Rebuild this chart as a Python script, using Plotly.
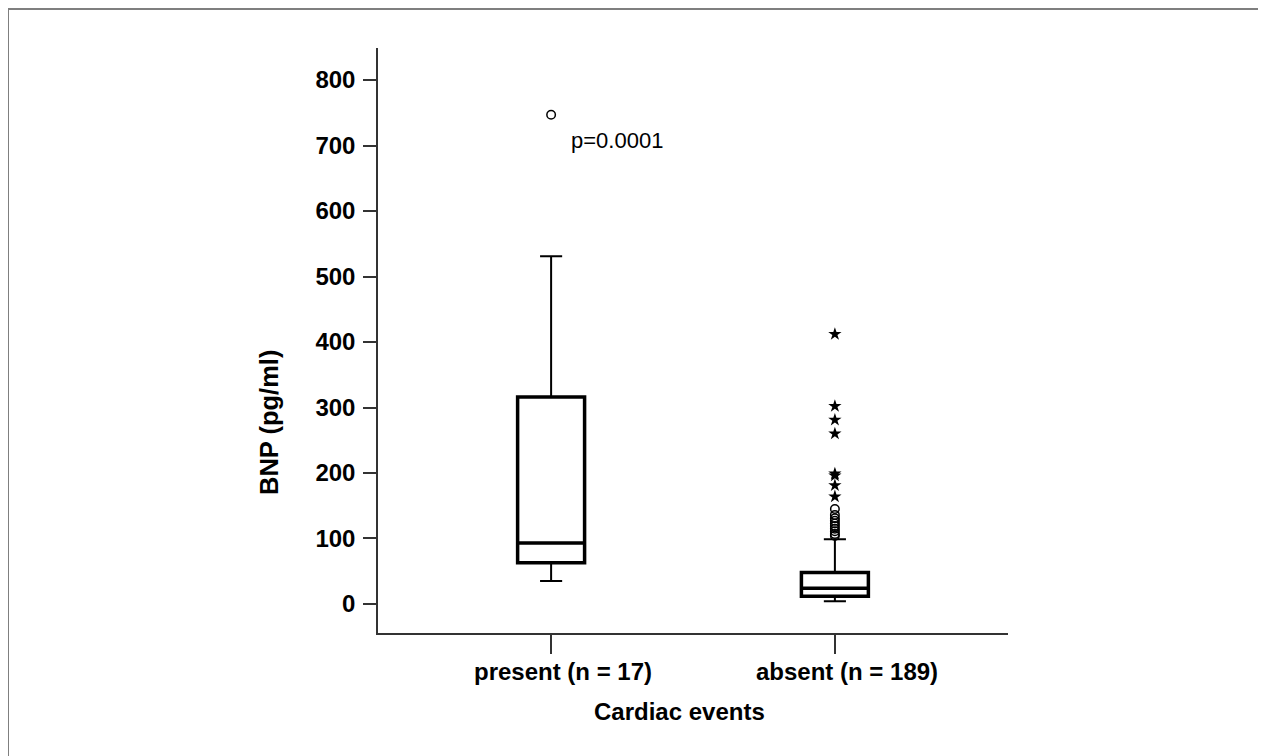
import plotly.graph_objects as go

# ---- data ----
categories = ["present (n = 17)", "absent (n = 189)"]
q1 = [63, 12]
median = [93, 24]
q3 = [316, 48]
lower_whisker = [35, 4]
upper_whisker = [531, 99]

present_circles = [747]
absent_circles = [104, 107, 111, 115, 119, 123, 127, 131, 136, 145]
absent_stars = [164, 181, 196, 199, 260, 281, 302, 412]

y_ticks = [0, 100, 200, 300, 400, 500, 600, 700, 800]
p_text = "p=0.0001"
x_title = "Cardiac events"
y_title = "BNP (pg/ml)"

# ---- layout geometry (page is offset by the 8px body margin) ----
OFF = 8
W, H = 1258, 748
L, R, T, B = 378 - OFF, 1008 - OFF, 48 - OFF, 633 - OFF
FONT = "Liberation Sans, Arial, sans-serif"
BLACK = "#000000"


def px(xp):
    return (xp - OFF - L) / (R - L)


def py(yp):
    return (B - (yp - OFF)) / (B - T)


fig = go.Figure()

# whiskers + box (thin)
fig.add_trace(go.Box(
    x=categories, q1=q1, median=median, q3=q3,
    lowerfence=lower_whisker, upperfence=upper_whisker,
    width=0.236, whiskerwidth=0.33,
    line=dict(color=BLACK, width=2), fillcolor="white",
    boxpoints=False, hoverinfo="skip", showlegend=False,
))
# thicker box outline
fig.add_trace(go.Box(
    x=categories, q1=q1, median=median, q3=q3,
    lowerfence=q1, upperfence=q3,
    width=0.236, whiskerwidth=0.0,
    line=dict(color=BLACK, width=3.5), fillcolor="rgba(0,0,0,0)",
    boxpoints=False, hoverinfo="skip", showlegend=False,
))

# outliers
fig.add_trace(go.Scatter(
    x=[categories[0]] * len(present_circles) + [categories[1]] * len(absent_circles),
    y=present_circles + absent_circles,
    mode="markers",
    marker=dict(symbol="circle-open", size=8.5, color=BLACK, line=dict(width=1.5, color=BLACK)),
    showlegend=False, hoverinfo="skip",
))
fig.add_trace(go.Scatter(
    x=[categories[1]] * len(absent_stars), y=absent_stars,
    mode="markers",
    marker=dict(symbol="star", size=10, color=BLACK, line=dict(width=0)),
    showlegend=False, hoverinfo="skip",
))

fig.add_annotation(
    x=categories[0], y=present_circles[0], xref="x", yref="y",
    text=p_text, showarrow=False, xanchor="left", yanchor="middle",
    xshift=18, yshift=-26,
    font=dict(family=FONT, size=22, color=BLACK),
)

# category labels (slightly right of their ticks, as in the reference)
for cat in categories:
    fig.add_annotation(
        x=cat, y=py(671), xref="x", yref="paper",
        text=cat, showarrow=False, xanchor="center", yanchor="middle",
        xshift=12,
        font=dict(family=FONT, size=24, color=BLACK, weight="bold"),
    )

# axis titles as annotations (offset like the reference)
fig.add_annotation(
    x=px(679), y=py(711), xref="paper", yref="paper",
    text=x_title, showarrow=False, xanchor="center", yanchor="middle",
    font=dict(family=FONT, size=24, color=BLACK, weight="bold"),
)
fig.add_annotation(
    x=px(269), y=py(423), xref="paper", yref="paper",
    text=y_title, showarrow=False, xanchor="center", yanchor="middle",
    textangle=-90,
    font=dict(family=FONT, size=25.5, color=BLACK, weight="bold"),
)

# outer border (left, top, right)
border = [
    (8, 9, 8, 780, "#7f7f7f"),
    (8, 9, 1263, 9, "#7f7f7f"),
    (1263, 9, 1263, 780, "#222222"),
]
for x0, y0, x1, y1, c in border:
    fig.add_shape(type="line", xref="paper", yref="paper",
                  x0=px(x0), y0=py(y0), x1=px(x1), y1=py(y1),
                  line=dict(color=c, width=2))

fig.update_layout(
    width=W, height=H,
    margin=dict(l=L, r=W - R, t=T, b=H - B),
    paper_bgcolor="white", plot_bgcolor="white",
    font=dict(family=FONT, color=BLACK),
    showlegend=False,
)
fig.update_xaxes(
    type="category", range=[-0.61, 1.61],
    showline=True, linecolor="#333333", linewidth=1.5, mirror=False,
    ticks="outside", ticklen=19, tickwidth=1.5, tickcolor="#333333",
    showticklabels=False,
    showgrid=False, zeroline=False,
)
fig.update_yaxes(
    range=[-44.3, 848.9], tickvals=y_ticks,
    showline=True, linecolor="#333333", linewidth=1.5,
    ticks="outside", ticklen=13, tickwidth=1.5, tickcolor="#333333",
    tickfont=dict(family=FONT, size=24, color=BLACK, weight="bold"),
    showgrid=False, zeroline=False, ticklabelstandoff=3,
)

fig.write_html("out.html")
